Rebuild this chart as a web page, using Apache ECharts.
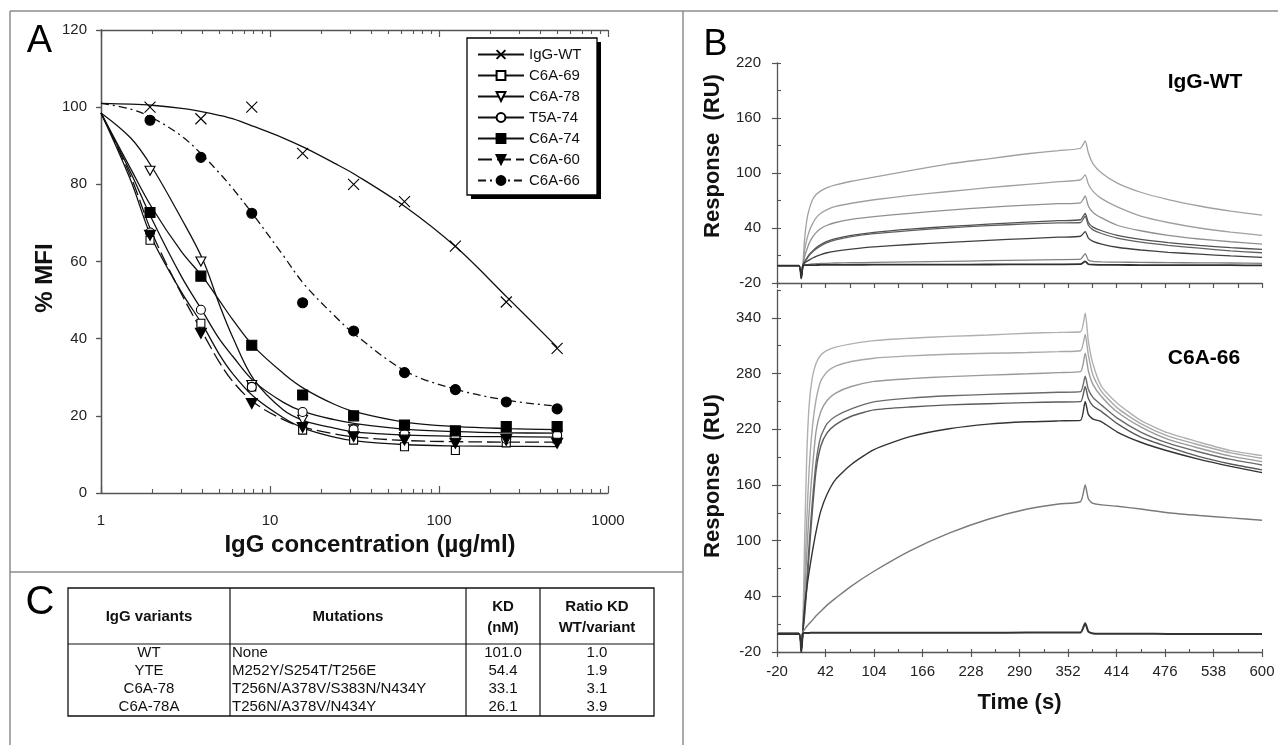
<!DOCTYPE html>
<html>
<head>
<meta charset="utf-8">
<script src="https://cdn.jsdelivr.net/npm/echarts@6/dist/echarts.min.js"></script>
<style>
html,body{margin:0;padding:0;background:#fff;}
#c{width:1278px;height:745px;}
</style>
</head>
<body>
<div id="c"></div>
<script>
// ================= PANEL A DATA =================
const CONC = [1.95, 3.9, 7.8, 15.6, 31.25, 62.5, 125, 250, 500];
const PTS_WT   = [100, 97, 100, 88, 80, 75.5, 64, 49.5, 37.5];
const PTS_C669 = [65.5, 44, 27.5, 16.3, 13.7, 12, 11, 13, 14];
const PTS_C678 = [83.5, 60, 28, 19, 16.5, 14.5, 14, 13.5, 15];
const PTS_T574 = [67.5, 47.5, 27.5, 21, 16.5, 15.3, 14.5, 14, 15];
const PTS_C674 = [72.7, 56.2, 38.3, 25.4, 20, 17.6, 16.1, 17.2, 17.2];
const PTS_C660 = [66.8, 41.4, 23.2, 17, 14.6, 13.7, 12.9, 13.9, 12.9];
const PTS_C666 = [96.6, 87, 72.5, 49.3, 42, 31.2, 26.8, 23.6, 21.8];

// fitted curves
const FIT_X    = [1, 1.5, 2, 3, 4, 5, 6, 8, 12, 16, 24, 32, 64, 128, 256, 500];
const FIT_WT   = [101, 100.8, 100.5, 99.7, 98.8, 97.9, 97, 95, 92, 89.5, 85.5, 82.5, 74, 63.5, 50.5, 37.8];
const FIT_C669 = [98.5, 81, 66, 52, 43.5, 36, 31, 25, 19.5, 16.7, 14.5, 13.5, 12.5, 12.2, 12.1, 12.0];
const FIT_C678 = [98.5, 92, 84.5, 71, 60.5, 49, 40.5, 29.5, 21.5, 18.7, 16.8, 15.8, 15, 14.7, 14.6, 14.5];
const FIT_T574 = [98.5, 83, 71, 56, 47, 40, 35.5, 29, 23.5, 21, 19, 18, 16.5, 15.9, 15.6, 15.5];
const FIT_C674 = [98.5, 84, 74, 62.5, 56, 50, 45, 38, 31, 27, 23, 21, 18.3, 17.2, 16.7, 16.4];
const FIT_C660 = [98.5, 82, 67.5, 51.5, 41.5, 34, 29, 23.5, 19, 17, 15.3, 14.5, 13.6, 13.3, 13.2, 13.2];
const FIT_C666 = [101, 99.5, 97.3, 92.5, 87.5, 83, 79, 72, 61.5, 54, 46, 41, 31.5, 26.8, 24, 22.5];

const VARIANT_NAMES = ['IgG-WT', 'C6A-69', 'C6A-78', 'T5A-74', 'C6A-74', 'C6A-60', 'C6A-66'];
const A_Y_MIN = 0, A_Y_MAX = 120, A_Y_STEP = 20;
const A_X_MINOR_TICKS = [2,3,4,5,6,7,8,9,20,30,40,50,60,70,80,90,200,300,400,500,600,700,800,900];

// ================= PANEL B DATA =================
const TIME_B = [-20, 8, 11, 13, 15, 18, 21, 25, 30, 36, 44, 55, 75, 104, 150, 200, 250, 300, 340, 368, 374, 378, 384, 395, 415, 445, 480, 520, 560, 600];
// IgG-WT sensorgrams
const WT_1 = [-1, -1, -14, -2, 25, 48, 60, 70, 76.5, 80.5, 84, 87, 91, 95.5, 102.5, 110, 115.5, 121, 124.5, 127, 135, 122, 110, 100, 89, 79, 71, 64, 58.5, 54];
const WT_2 = [-1, -1, -14, -2, 14, 27, 36, 44, 51, 56, 60, 63.5, 67, 70.8, 75.5, 79.8, 84, 87.6, 90.5, 92.5, 98, 88, 80, 72, 63, 53, 46, 40, 35.5, 32];
const WT_3 = [-1, -1, -13, -2, 8, 16, 23, 29.5, 35, 39.5, 43, 46, 49.5, 52.5, 56, 59.6, 62.5, 65, 66.5, 67.5, 75, 64, 57, 51, 43, 37, 32, 28, 25, 22.5];
const WT_4 = [-1, -1, -13, -1, 3, 7, 11, 14.5, 18.5, 22, 25.5, 28.5, 32, 35.3, 38.8, 41.7, 44.2, 46.5, 48, 49, 56, 46, 41, 37, 32, 27.5, 24, 21, 18.5, 16.7];
const WT_5 = [-1, -1, -13, -1, 2.5, 6, 10, 13.5, 17, 20.5, 24, 27, 30.5, 33.8, 37.2, 40.2, 42.6, 44.4, 45.5, 46, 53, 43, 38, 34, 29, 24.5, 21, 18, 15, 13];
const WT_6 = [-1, -1, -12, -1, 1.5, 3.5, 5, 7, 9, 11, 13, 14.8, 17, 19.5, 22, 24.3, 26.5, 28.5, 30, 31, 36, 29, 25.5, 22.5, 19, 16, 13.5, 11.5, 9.5, 8];
const WT_7 = [-1, -1, -10, -1, -0.5, 0, 0.4, 0.8, 1.1, 1.3, 1.5, 1.8, 2.1, 2.5, 3, 3.6, 4.3, 5, 5.5, 6, 12, 5, 3.5, 3, 2.8, 2.5, 2.2, 2, 1.8, 1.5];
const WT_8 = [-1, -1, -15, -1, -0.6, -0.5, -0.5, -0.5, -0.4, -0.3, -0.3, -0.2, -0.2, 0, 0, 0, 0.2, 0.3, 0.4, 0.5, 3.5, 0.5, 0, -0.2, -0.3, -0.4, -0.5, -0.5, -0.6, -0.8];
// C6A-66 sensorgrams
const C66_1 = [0, 0, -18, 5, 90, 190, 245, 275, 291, 300, 305, 308.5, 312, 315.5, 318, 320, 321.5, 323.4, 324.3, 325, 345, 315, 290, 266, 248, 229.5, 216, 206, 197, 191.6];
const C66_2 = [0, 0, -18, 4, 50, 120, 175, 220, 252, 272, 282, 288, 293, 296.5, 299, 300.8, 301.8, 302.6, 303.6, 304.5, 322, 300, 278, 260.5, 243, 226, 212.5, 203, 194.5, 188.7];
const C66_3 = [0, 0, -18, 3, 35, 85, 130, 175, 218, 239, 251, 259, 266, 271.5, 274.5, 276.7, 278.3, 279.7, 281, 282, 302, 283, 268, 255, 238.5, 222.5, 209, 199.5, 191, 185.1];
const C66_4 = [0, 0, -18, 2, 20, 55, 95, 140, 185, 212, 226, 234, 242, 249.5, 253.5, 256, 257.5, 258.8, 259.8, 260.5, 277, 263, 254, 246, 232, 217, 205, 195.5, 187.5, 181.5];
const C66_5 = [0, 0, -18, 2, 16, 48, 85, 130, 176, 202, 216, 225, 234, 240.8, 244, 246.2, 247.5, 248.7, 249.3, 249.7, 266, 253, 245, 239, 226, 211.5, 201, 190.5, 182.5, 176.2];
const C66_6 = [0, 0, -18, 2, 25, 48, 66, 87, 110, 132, 150, 166, 182, 198, 212, 220.5, 225.5, 228, 229, 229.5, 250, 236, 231, 228, 217, 206, 196.5, 187.5, 180, 173.3];
const C66_7 = [0, 0, -18, 2, 4, 7.5, 10.5, 14, 19, 24, 30.5, 38, 51, 67, 89, 108, 123, 134, 139.5, 142, 160, 145, 140, 138.5, 137, 134, 130, 127, 124.5, 122];
const C66_8 = [-0.6, -0.6, -20, 0, 0.5, 0.6, 0.6, 0.7, 0.7, 0.8, 0.8, 0.8, 0.8, 0.8, 0.8, 0.8, 0.8, 0.9, 0.9, 1, 11, 2, 0, -0.3, -0.4, -0.4, -0.5, -0.5, -0.5, -0.5];

const TIME_LABELS = [-20, 42, 104, 166, 228, 290, 352, 414, 476, 538, 600];
const TIME_MINOR  = [11, 73, 135, 197, 259, 321, 383, 445, 507, 569];
const RU_TOP_LABELS = [-20, 40, 100, 160, 220];
const RU_TOP_TICKS  = [-20, 10, 40, 70, 100, 130, 160, 190, 220];
const RU_BOT_LABELS = [-20, 40, 100, 160, 220, 280, 340];
const RU_BOT_TICKS  = [-20, 10, 40, 70, 100, 130, 160, 190, 220, 250, 280, 310, 340, 370];

// ================= PANEL C DATA =================
const TABLE_HEADERS = ['IgG variants', 'Mutations', 'KD\n(nM)', 'Ratio KD\nWT/variant'];
const TABLE_VARIANTS = ['WT', 'YTE', 'C6A-78', 'C6A-78A'];
const TABLE_MUTATIONS = ['None', 'M252Y/S254T/T256E', 'T256N/A378V/S383N/N434Y', 'T256N/A378V/N434Y'];
const TABLE_KD = ['101.0', '54.4', '33.1', '26.1'];
const TABLE_RATIO = ['1.0', '1.9', '3.1', '3.9'];

// ================= BUILD =================
const FONT = "'Liberation Sans', Arial, Helvetica, sans-serif";
const AX = '#555';
const XPATH = 'path://M0,0L10,10M10,0L0,10';
const DTRI = 'path://M0,0L10,0L5,8.7Z';

const A_SPECS = [
  {name: 'IgG-WT', fit: FIT_WT,   pts: PTS_WT,   symbol: XPATH, size: 11, fill: 'rgba(0,0,0,0)', dash: 'solid', z: 4},
  {name: 'C6A-69', fit: FIT_C669, pts: PTS_C669, symbol: 'rect', size: 8, fill: '#fff', dash: 'solid', z: 4},
  {name: 'C6A-78', fit: FIT_C678, pts: PTS_C678, symbol: DTRI, size: [10, 9], fill: '#fff', dash: 'solid', z: 4},
  {name: 'T5A-74', fit: FIT_T574, pts: PTS_T574, symbol: 'circle', size: 9, fill: '#fff', dash: 'solid', z: 4},
  {name: 'C6A-74', fit: FIT_C674, pts: PTS_C674, symbol: 'rect', size: 10, fill: '#000', dash: 'solid', z: 5},
  {name: 'C6A-60', fit: FIT_C660, pts: PTS_C660, symbol: DTRI, size: [11, 10], fill: '#000', dash: [14, 5], z: 5},
  {name: 'C6A-66', fit: FIT_C666, pts: PTS_C666, symbol: 'circle', size: 10, fill: '#000', dash: [8, 4, 2, 4], z: 5}
];

const series = [];
A_SPECS.forEach(s => {
  series.push({
    name: s.name, type: 'line', xAxisIndex: 0, yAxisIndex: 0,
    data: FIT_X.map((x, i) => [x, s.fit[i]]),
    smooth: 0.35, showSymbol: false, symbol: s.symbol, symbolSize: s.size,
    itemStyle: {color: s.fill, borderColor: '#000', borderWidth: 1.1},
    lineStyle: {color: '#111', width: 1.3, type: s.dash},
    z: 2, silent: true
  });
});
A_SPECS.forEach(s => {
  series.push({
    name: s.name, type: 'scatter', xAxisIndex: 0, yAxisIndex: 0,
    data: CONC.map((x, i) => [x, s.pts[i]]),
    symbol: s.symbol, symbolSize: s.size,
    itemStyle: {color: s.fill, borderColor: '#000', borderWidth: 1.1, opacity: 1},
    z: s.z, silent: true
  });
});

const WT_CURVES = [WT_1, WT_2, WT_3, WT_4, WT_5, WT_6, WT_7, WT_8];
const WT_COLORS = ['#a0a0a0', '#a0a0a0', '#909090', '#505050', '#606060', '#404040', '#808080', '#303030'];
const C66_CURVES = [C66_1, C66_2, C66_3, C66_4, C66_5, C66_6, C66_7, C66_8];
const C66_COLORS = ['#b0b0b0', '#a8a8a8', '#9a9a9a', '#6a6a6a', '#5a5a5a', '#333333', '#7a7a7a', '#333333'];

WT_CURVES.forEach((c, k) => {
  series.push({
    name: 'WT sensorgram ' + (k + 1), type: 'line', xAxisIndex: 4, yAxisIndex: 2,
    data: TIME_B.map((t, i) => [t, c[i]]), showSymbol: false, smooth: 0.2,
    lineStyle: {color: WT_COLORS[k], width: k === 7 ? 1.8 : 1.3}, silent: true
  });
});
C66_CURVES.forEach((c, k) => {
  series.push({
    name: 'C6A-66 sensorgram ' + (k + 1), type: 'line', xAxisIndex: 5, yAxisIndex: 4,
    data: TIME_B.map((t, i) => [t, c[i]]), showSymbol: false, smooth: 0.2,
    lineStyle: {color: C66_COLORS[k], width: k === 7 ? 2 : 1.4}, silent: true
  });
});

const lab = {fontFamily: FONT, fontSize: 15, color: '#222'};
const noSplit = {show: false};

const xAxis = [
  {gridIndex: 0, type: 'log', logBase: 10, min: 1, max: 1000, position: 'bottom',
   axisLine: {show: true, lineStyle: {color: AX, width: 1.3}},
   axisTick: {show: true, inside: true, length: 7, lineStyle: {color: AX, width: 1.2}},
   axisLabel: Object.assign({margin: 20, formatter: v => String(v)}, lab), splitLine: noSplit, minorTick: {show: false},
   name: 'IgG concentration (\u00b5g/ml)', nameLocation: 'middle', nameGap: 38,
   nameTextStyle: {fontFamily: FONT, fontSize: 24, fontWeight: 'bold', color: '#111', padding: [0, 0, 0, 31]}},
  {gridIndex: 0, type: 'value', min: 0, max: 3, position: 'bottom', axisLine: {show: false},
   axisTick: {show: true, inside: true, length: 4, customValues: A_X_MINOR_TICKS.map(v => Math.log10(v)), lineStyle: {color: AX, width: 1.1}},
   axisLabel: {show: false}, splitLine: noSplit},
  {gridIndex: 0, type: 'log', logBase: 10, min: 1, max: 1000, position: 'top',
   axisLine: {show: true, lineStyle: {color: AX, width: 1.3}},
   axisTick: {show: true, inside: true, length: 7, lineStyle: {color: AX, width: 1.2}},
   axisLabel: {show: false}, splitLine: noSplit},
  {gridIndex: 0, type: 'value', min: 0, max: 3, position: 'top', axisLine: {show: false},
   axisTick: {show: true, inside: true, length: 4, customValues: A_X_MINOR_TICKS.map(v => Math.log10(v)), lineStyle: {color: AX, width: 1.1}},
   axisLabel: {show: false}, splitLine: noSplit},
  {gridIndex: 1, type: 'value', min: -20, max: 600, position: 'bottom',
   axisLine: {show: true, onZero: false, lineStyle: {color: AX, width: 1.3}},
   axisTick: {show: true, length: 5, customValues: TIME_LABELS.concat(TIME_MINOR), lineStyle: {color: AX, width: 1.2}},
   axisLabel: {show: false}, splitLine: noSplit},
  {gridIndex: 2, type: 'value', min: -20, max: 600, position: 'bottom',
   axisLine: {show: true, onZero: false, lineStyle: {color: AX, width: 1.3}},
   axisTick: {show: true, length: 5, customValues: TIME_LABELS, lineStyle: {color: AX, width: 1.2}},
   axisLabel: Object.assign({margin: 12, customValues: TIME_LABELS}, lab), splitLine: noSplit,
   name: 'Time (s)', nameLocation: 'middle', nameGap: 40,
   nameTextStyle: {fontFamily: FONT, fontSize: 22, fontWeight: 'bold', color: '#111'}},
  {gridIndex: 2, type: 'value', min: -20, max: 600, position: 'bottom',
   axisLine: {show: false, onZero: false},
   axisTick: {show: true, inside: true, length: 3, customValues: TIME_LABELS.concat(TIME_MINOR), lineStyle: {color: AX, width: 1.1}},
   axisLabel: {show: false}, splitLine: noSplit}
];

const yAxis = [
  {gridIndex: 0, type: 'value', min: A_Y_MIN, max: A_Y_MAX, interval: A_Y_STEP, position: 'left',
   axisLine: {show: true, lineStyle: {color: AX, width: 1.3}},
   axisTick: {show: true, length: 4, lineStyle: {color: AX, width: 1.2}},
   axisLabel: Object.assign({margin: 14}, lab), splitLine: noSplit,
   name: '% MFI', nameLocation: 'middle', nameGap: 44, nameRotate: 90,
   nameTextStyle: {fontFamily: FONT, fontSize: 24, fontWeight: 'bold', color: '#111', padding: [0, 33, 0, 0]}},
  {gridIndex: 0, type: 'value', min: A_Y_MIN, max: A_Y_MAX, interval: A_Y_STEP, position: 'right',
   axisLine: {show: true, lineStyle: {color: AX, width: 1.3}},
   axisTick: {show: true, inside: true, length: 5, lineStyle: {color: AX, width: 1.2}},
   axisLabel: {show: false}, splitLine: noSplit},
  {gridIndex: 1, type: 'value', min: -20, max: 220, position: 'left',
   axisLine: {show: true, onZero: false, lineStyle: {color: AX, width: 1.3}},
   axisTick: {show: true, length: 5, customValues: RU_TOP_LABELS, lineStyle: {color: AX, width: 1.2}},
   axisLabel: Object.assign({margin: 16, customValues: RU_TOP_LABELS}, lab), splitLine: noSplit,
   name: 'Response  (RU)', nameLocation: 'middle', nameGap: 53, nameRotate: 90,
   nameTextStyle: {fontFamily: FONT, fontSize: 22, fontWeight: 'bold', color: '#111', padding: [0, 0, 0, 34]}},
  {gridIndex: 1, type: 'value', min: -20, max: 220, position: 'left',
   axisLine: {show: false, onZero: false},
   axisTick: {show: true, inside: true, length: 4, customValues: RU_TOP_TICKS, lineStyle: {color: AX, width: 1.1}},
   axisLabel: {show: false}, splitLine: noSplit},
  {gridIndex: 2, type: 'value', min: -20, max: 370, position: 'left',
   axisLine: {show: true, onZero: false, lineStyle: {color: AX, width: 1.3}},
   axisTick: {show: true, length: 5, customValues: RU_BOT_LABELS, lineStyle: {color: AX, width: 1.2}},
   axisLabel: Object.assign({margin: 16, customValues: RU_BOT_LABELS}, lab), splitLine: noSplit,
   name: 'Response  (RU)', nameLocation: 'middle', nameGap: 53, nameRotate: 90,
   nameTextStyle: {fontFamily: FONT, fontSize: 22, fontWeight: 'bold', color: '#111', padding: [0, 10, 0, 0]}},
  {gridIndex: 2, type: 'value', min: -20, max: 370, position: 'left',
   axisLine: {show: false, onZero: false},
   axisTick: {show: true, inside: true, length: 4, customValues: RU_BOT_TICKS, lineStyle: {color: AX, width: 1.1}},
   axisLabel: {show: false}, splitLine: noSplit}
];

// ---- graphic: frames, legend box, panel letters, panel B labels, table C ----
const graphics = [];
const FR = {stroke: '#8c8c8c', lineWidth: 1.5};
function line(x1, y1, x2, y2, st) { graphics.push({type: 'line', silent: true, shape: {x1, y1, x2, y2}, style: Object.assign({}, st)}); }
function text(t, x, y, font, align, color) {
  graphics.push({type: 'text', silent: true, x: x, y: y,
    style: {text: t, font: font, fill: color || '#000', align: align || 'center', verticalAlign: 'middle',
            textAlign: align || 'center', textVerticalAlign: 'middle', lineHeight: 21}});
}
line(10, 11, 1278, 11, FR);
line(10, 11, 10, 745, FR);
line(683, 11, 683, 745, FR);
line(10, 572, 683, 572, FR);
// legend frame with heavy drop shadow
const LG = {x: 467, y: 38, w: 130, h: 157, off: 4};
graphics.push({type: 'rect', silent: true, z: 6, shape: {x: LG.x + LG.off, y: LG.y + LG.off, width: LG.w, height: LG.h}, style: {fill: '#000'}});
graphics.push({type: 'rect', silent: true, z: 7, shape: {x: LG.x, y: LG.y, width: LG.w, height: LG.h}, style: {fill: '#fff', stroke: '#000', lineWidth: 1.3}});

text('A', 39.5, 42, "38px " + FONT);
text('B', 715.5, 45, "36px " + FONT);
text('C', 40, 603, "40px " + FONT);
text('IgG-WT', 1205, 82, "bold 21px " + FONT);
text('C6A-66', 1204, 358, "bold 21px " + FONT);

const COLS = [68, 230, 466, 540, 654];
const T_TOP = 588, T_HEAD = 56, T_ROW = 18;
const T_BOT = T_TOP + T_HEAD + T_ROW * TABLE_VARIANTS.length;
const TB = {stroke: '#111', lineWidth: 1.2};
graphics.push({type: 'rect', silent: true, shape: {x: COLS[0], y: T_TOP, width: COLS[4] - COLS[0], height: T_BOT - T_TOP}, style: {fill: 'none', stroke: '#111', lineWidth: 1.3}});
line(COLS[0], T_TOP + T_HEAD, COLS[4], T_TOP + T_HEAD, TB);
for (let k = 1; k < 4; k++) line(COLS[k], T_TOP, COLS[k], T_BOT, TB);
TABLE_HEADERS.forEach((h, k) => {
  text(h, (COLS[k] + COLS[k + 1]) / 2, T_TOP + T_HEAD / 2 + 1, "bold 15px " + FONT, 'center', '#111');
});
TABLE_VARIANTS.forEach((v, i) => {
  const y = T_TOP + T_HEAD + T_ROW * (i + 0.5);
  text(v, (COLS[0] + COLS[1]) / 2, y, "15px " + FONT, 'center', '#111');
  text(TABLE_MUTATIONS[i], COLS[1] + 2, y, "15px " + FONT, 'left', '#111');
  text(TABLE_KD[i], (COLS[2] + COLS[3]) / 2, y, "15px " + FONT, 'center', '#111');
  text(TABLE_RATIO[i], (COLS[3] + COLS[4]) / 2, y, "15px " + FONT, 'center', '#111');
});

const option = {
  animation: false,
  backgroundColor: '#fff',
  textStyle: {fontFamily: FONT},
  grid: [
    {left: 101, top: 30, width: 507, height: 463},
    {left: 777, top: 63, width: 485, height: 220},
    {left: 777, top: 290, width: 485, height: 362}
  ],
  legend: {
    data: VARIANT_NAMES, orient: 'vertical', left: 467, top: 38,
    itemWidth: 46, itemHeight: 11, itemGap: 6,
    padding: [9, 14, 9, 10],
    backgroundColor: 'transparent', borderWidth: 0,
    textStyle: {fontFamily: FONT, fontSize: 15, color: '#111'},
    selectedMode: false, z: 10
  },
  xAxis: xAxis,
  yAxis: yAxis,
  series: series,
  graphic: {elements: graphics}
};

const chart = echarts.init(document.getElementById('c'), null, {renderer: 'canvas'});
chart.setOption(option);
</script>
</body>
</html>
